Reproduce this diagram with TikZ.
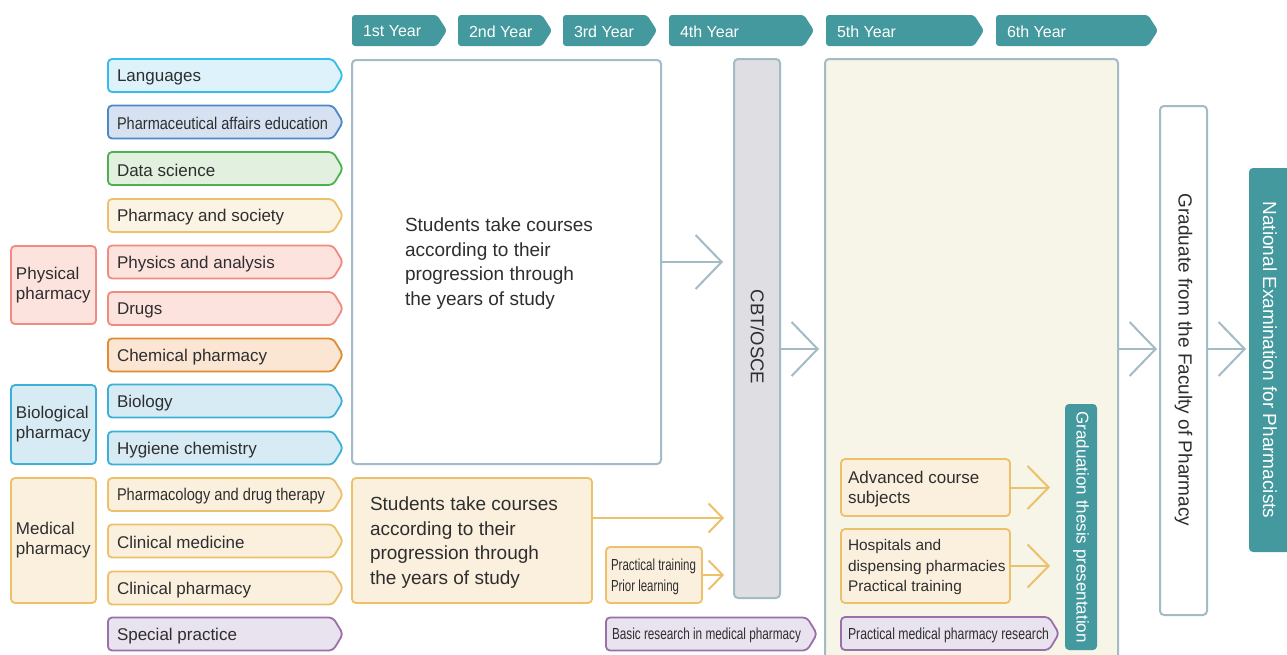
\documentclass[tikz,border=0pt]{standalone}
\usepackage{fontspec}
\setmainfont{Liberation Sans}
\usepackage{graphicx}
\usetikzlibrary{arrows.meta}
\definecolor{cTeal}{HTML}{43999E}
\definecolor{cGray}{HTML}{A3BBC5}
\definecolor{cText}{HTML}{2E2E2E}
\definecolor{cCyanB}{HTML}{35BCEA}
\definecolor{cCyanF}{HTML}{DDF2FB}
\definecolor{cBlueB}{HTML}{4C88C6}
\definecolor{cBlueF}{HTML}{D6E2F2}
\definecolor{cGreenB}{HTML}{4DB14F}
\definecolor{cGreenF}{HTML}{E2F0DF}
\definecolor{cYelB}{HTML}{EDC06A}
\definecolor{cYelF}{HTML}{FBF0DE}
\definecolor{cSocF}{HTML}{FBF3E3}
\definecolor{cSalB}{HTML}{EF8B80}
\definecolor{cSalF}{HTML}{FDE3DE}
\definecolor{cOraB}{HTML}{E08B33}
\definecolor{cOraF}{HTML}{FBE5D3}
\definecolor{cBioB}{HTML}{3DB0D6}
\definecolor{cBioF}{HTML}{D7EBF4}
\definecolor{cPurB}{HTML}{9A70A9}
\definecolor{cPurF}{HTML}{E8E3EE}
\definecolor{cCbtF}{HTML}{DFDEE3}
\definecolor{cYearF}{HTML}{F7F4E8}

\newcommand\fs[2]{\fontsize{#1pt}{#2pt}\selectfont}
\newcommand\cond[2]{\resizebox{#1pt}{\height}{#2}}
% year tab: name, x1, xtip, text
\newcommand\ytab[4]{%
  \fill[cTeal, rounded corners=3pt] (#2,15) -- (#3-10,15) -- (#3,30.5) -- (#3-10,46) -- (#2,46) -- cycle;
  \node[yeartext] (#1) at (#2+11,30.5) {#4};}
% arrow box: name, style, x1, xtip, yc, textx, text
\newcommand\abox[7]{%
  \path[abox,#2] (#3,#5-16.5) -- (#4-10,#5-16.5) -- (#4,#5) -- (#4-10,#5+16.5) -- (#3,#5+16.5) -- cycle;
  \node[atext] (#1) at (#6,#5) {#7};}

\tikzset{
  every node/.style={inner sep=0pt, outer sep=0pt, text=cText},
  yeartext/.style={anchor=west, text=white, font=\fs{16}{19}, yshift=-1pt},
  abox/.style={line width=1.8pt, rounded corners=4pt},
  atext/.style={anchor=west, font=\fs{17}{20}, yshift=-1.8pt},
  grp/.style={line width=1.8pt, rounded corners=4pt, align=left, text width=75pt,
    inner xsep=5pt, minimum width=85pt, font=\fs{17}{20}},
  box/.style={line width=1.8pt, rounded corners=4pt, anchor=north west},
  gbox/.style={box, draw=cGray, line width=2pt},
  garrow/.style={draw=cGray, line width=2pt, -{Straight Barb[length=26pt,width=54pt]}},
  oarrow/.style={draw=cYelB, line width=2pt, -{Straight Barb[length=14pt,width=29pt]}},
  marrow/.style={draw=cYelB, line width=2pt, -{Straight Barb[length=21pt,width=43pt]}},
  mtext/.style={anchor=west, align=left, font=\fs{17}{20.5}, yshift=-1.5pt},
  btext/.style={anchor=west, align=left, font=\fs{19}{24.5}, yshift=-2.5pt},
}

\begin{document}
\begin{tikzpicture}[x=1pt,y=-1pt]
\clip (0,0) rectangle (1287,654);
\fill[white] (0,0) rectangle (1287,654);

% year tabs
\ytab{y1}{352}{447}{1st Year}
\ytab{y2}{458}{552}{2nd Year}
\ytab{y3}{563}{657}{3rd Year}
\ytab{y4}{669}{814}{4th Year}
\ytab{y5}{826}{984}{5th Year}
\ytab{y6}{996}{1158}{6th Year}

% left column subjects
\abox{lang}{draw=cCyanB,fill=cCyanF}{108}{343}{75.5}{117}{Languages}
\abox{pae}{draw=cBlueB,fill=cBlueF}{108}{343}{122}{117}{\cond{211}{Pharmaceutical affairs education}}
\abox{data}{draw=cGreenB,fill=cGreenF}{108}{343}{168.5}{117}{Data science}
\abox{soc}{draw=cYelB,fill=cSocF}{108}{343}{215.5}{117}{Pharmacy and society}
\abox{physan}{draw=cSalB,fill=cSalF}{108}{343}{262}{117}{Physics and analysis}
\abox{drugs}{draw=cSalB,fill=cSalF}{108}{343}{308.5}{117}{Drugs}
\abox{chem}{draw=cOraB,fill=cOraF}{108}{343}{355}{117}{Chemical pharmacy}
\abox{bio}{draw=cBioB,fill=cBioF}{108}{343}{401}{117}{Biology}
\abox{hyg}{draw=cBioB,fill=cBioF}{108}{343}{448}{117}{Hygiene chemistry}
\abox{pharmacol}{draw=cYelB,fill=cYelF}{108}{343}{494.5}{117}{\cond{208}{Pharmacology and drug therapy}}
\abox{clinmed}{draw=cYelB,fill=cYelF}{108}{343}{541}{117}{Clinical medicine}
\abox{clinph}{draw=cYelB,fill=cYelF}{108}{343}{588}{117}{Clinical pharmacy}
\abox{special}{draw=cPurB,fill=cPurF}{108}{343}{634}{117}{Special practice}

% group boxes
\node[grp, draw=cSalB, fill=cSalF, minimum height=78pt] (gphys) at (53.5,285) {Physical\\pharmacy};
\node[grp, draw=cBioB, fill=cBioF, minimum height=79pt] (gbio) at (53.5,424.5) {Biological\\pharmacy};
\node[grp, draw=cYelB, fill=cYelF, minimum height=125pt] (gmed) at (53.5,540.5) {Medical\\pharmacy};

% main boxes
\node[gbox, fill=white, minimum width=309pt, minimum height=404pt] (big) at (352,60) {};
\node[btext] (bigtext) at (405,261) {Students take courses\\according to their\\progression through\\the years of study};

\node[gbox, fill=cCbtF, minimum width=46pt, minimum height=539pt] (cbt) at (734,59) {};
\node[rotate=-90, font=\fs{18.5}{22}] (cbttext) at (757.5,337) {CBT/OSCE};

\node[gbox, fill=cYearF, minimum width=293pt, minimum height=640pt] (fifth) at (825,59) {};

\node[gbox, fill=white, minimum width=47pt, minimum height=509pt] (grad) at (1160,106) {};
\node[rotate=-90, font=\fs{19}{22}] (gradtext) at (1183.5,360) {Graduate from the Faculty of Pharmacy};

\node[box, fill=cTeal, minimum width=70pt, minimum height=384pt] (nat) at (1249,168) {};
\node[rotate=-90, font=\fs{19}{22}, text=white] (nattext) at (1270,360) {National Examination for Pharmacists};

% 1st-4th year medical boxes
\node[box, draw=cYelB, fill=cYelF, minimum width=240pt, minimum height=125pt] (obox) at (352,478) {};
\node[btext] (otext) at (370,540) {Students take courses\\according to their\\progression through\\the years of study};

\node[box, draw=cYelB, fill=cYelF, minimum width=96pt, minimum height=56pt] (pt) at (606,547) {};
\node[anchor=west, align=left, font=\fs{16}{21}, yshift=-1.5pt] (pttext) at (611,575) {\cond{85}{Practical training}\\\cond{68}{Prior learning}};

\abox{basic}{draw=cPurB,fill=cPurF}{606}{817}{634}{612}{\fs{16}{19}\cond{189}{Basic research in medical pharmacy}}

% 5th-6th year
\node[box, draw=cYelB, fill=cYelF, minimum width=169pt, minimum height=57pt] (adv) at (841,459) {};
\node[mtext] (advtext) at (848,487.5) {Advanced course\\subjects};

\node[box, draw=cYelB, fill=cYelF, minimum width=169pt, minimum height=74pt] (hosp) at (841,529) {};
\node[mtext, font=\fs{15.4}{20.5}] (hosptext) at (848,566) {Hospitals and\\dispensing pharmacies\\Practical training};

\abox{pmpr}{draw=cPurB,fill=cPurF}{841}{1059}{633.5}{848}{\fs{16}{19}\cond{201}{Practical medical pharmacy research}}

\node[box, fill=cTeal, minimum width=32pt, minimum height=246pt] (thesis) at (1065,404) {};
\node[rotate=-90, font=\fs{17}{20}, text=white] (thesistext) at (1081,527) {Graduation thesis presentation};

% connectors
\coordinate (ay) at (0,349);
\coordinate (oy) at (0,518);
\draw[garrow, shorten >=11pt] (big.east) -- (big.east -| cbt.west);
\draw[garrow, shorten >=6pt] (cbt.east |- ay) -- (fifth.west |- ay);
\draw[garrow, shorten >=3pt] (fifth.east |- ay) -- (grad.west |- ay);
\draw[garrow, shorten >=3pt] (grad.east |- ay) -- (nat.west |- ay);
\draw[oarrow, shorten >=10pt] (obox.east |- oy) -- (cbt.west |- oy);
\draw[oarrow, shorten >=10pt] (pt.east) -- (pt.east -| cbt.west);
\draw[marrow, shorten >=15pt] (adv.east) -- (adv.east -| thesis.west);
\draw[marrow, shorten >=15pt] (hosp.east) -- (hosp.east -| thesis.west);
\end{tikzpicture}
\end{document}
